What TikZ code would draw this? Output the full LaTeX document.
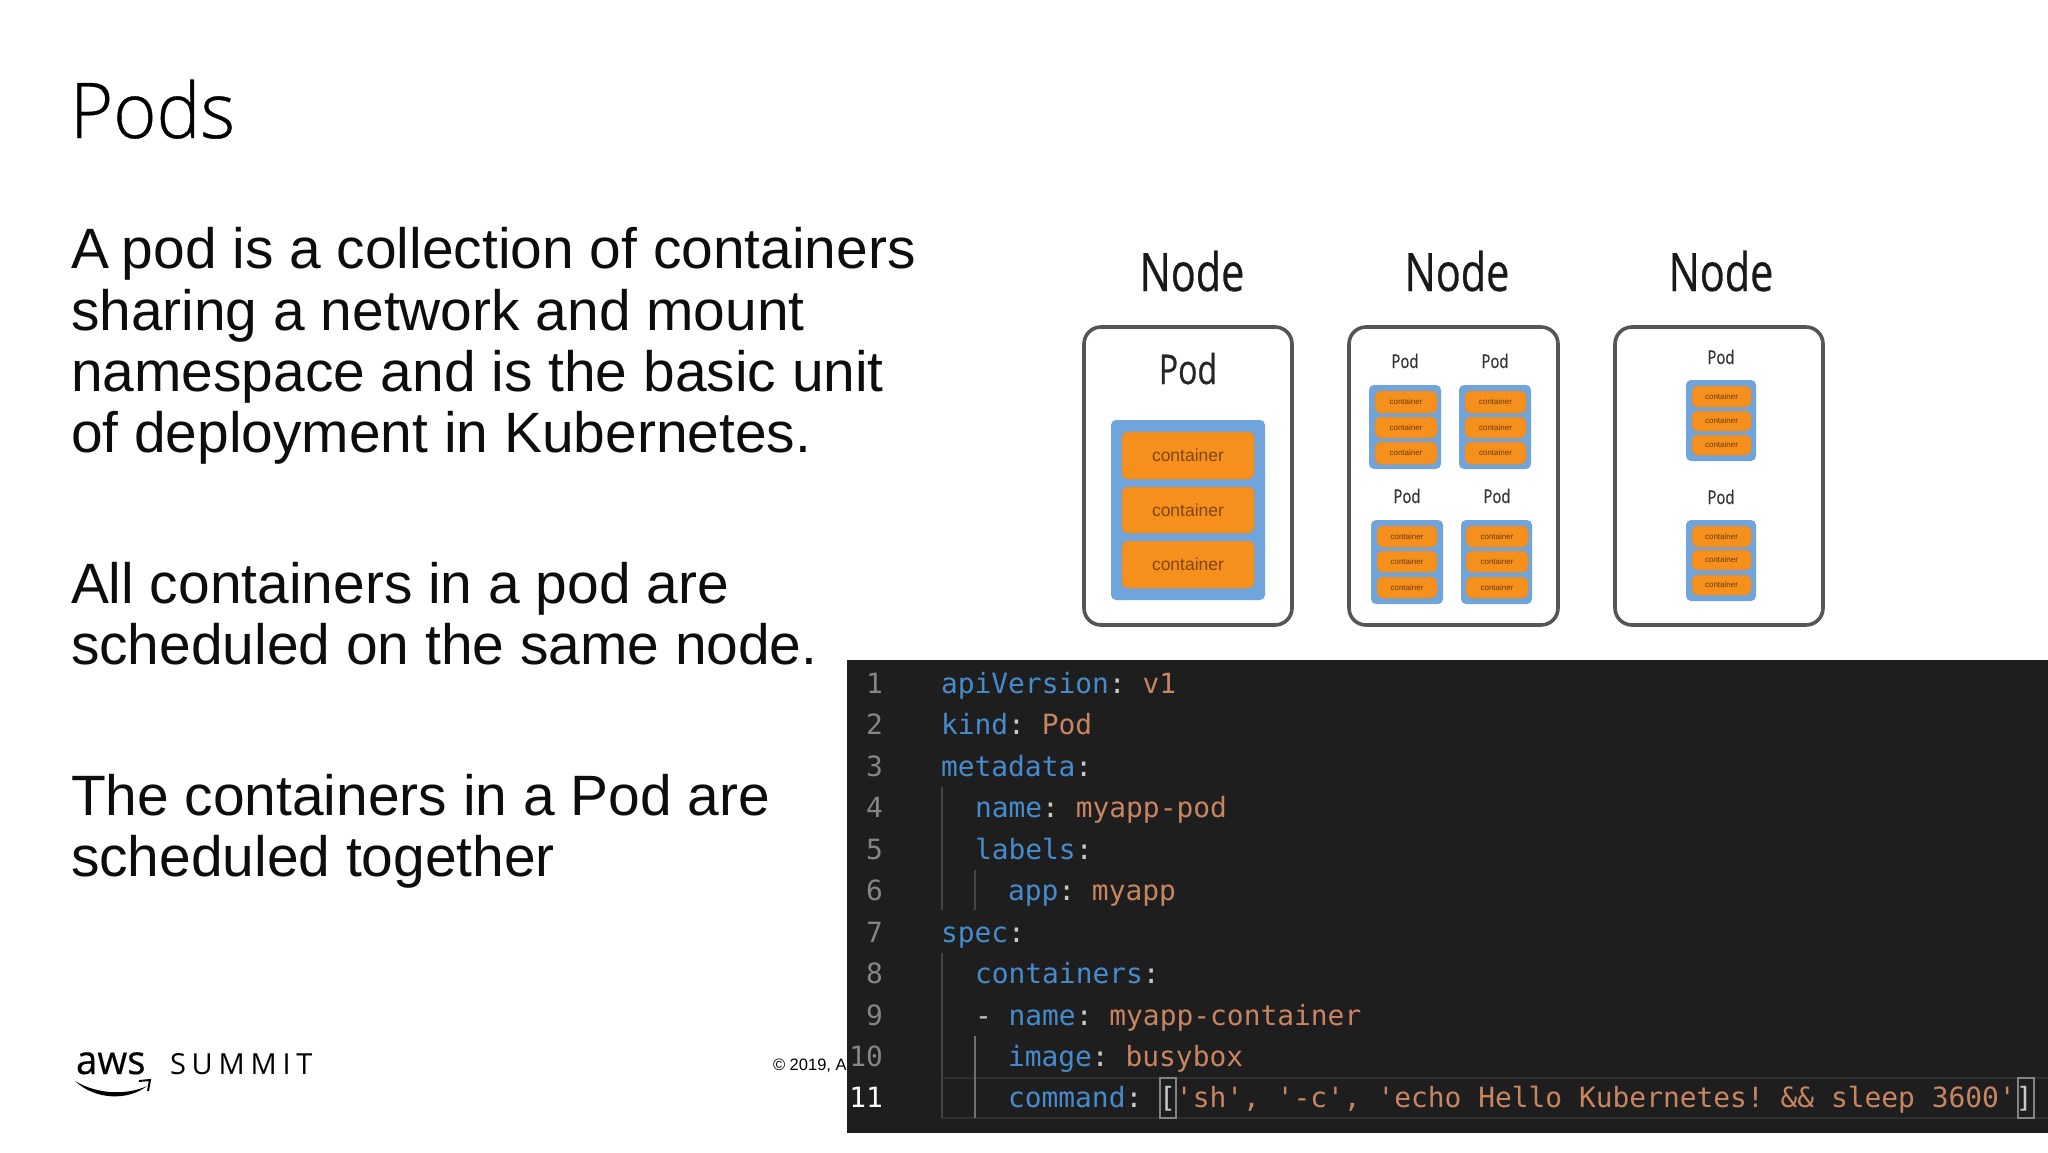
\documentclass[tikz,border=0pt]{standalone}
\usepackage{fontspec}
\setmainfont{Liberation Sans}
\setmonofont{DejaVu Sans Mono}
\newfontfamily\titlefont[FakeStretch=0.96,FakeBold=0.5]{Open Sans Light}
\newfontfamily\narrowfont[FakeStretch=0.78,FakeBold=0.5]{Open Sans}
\newfontfamily\logofont[FakeStretch=0.96,FakeBold=0.4]{Open Sans}
\newfontfamily\summitfont[LetterSpace=20]{Open Sans}
\definecolor{podblue}{HTML}{6FA5DC}
\definecolor{contorange}{HTML}{F5901C}
\definecolor{contlabel}{HTML}{834510}
\definecolor{contlabelsm}{HTML}{6E3A0C}
\definecolor{contedge}{HTML}{C9925A}
\definecolor{nodeline}{HTML}{555555}
\definecolor{panel}{HTML}{1E1E1F}
\definecolor{keyblue}{HTML}{468BCB}
\definecolor{valbrown}{HTML}{C78560}
\definecolor{lineno}{HTML}{858585}
\definecolor{punct}{HTML}{C8C8C8}
\definecolor{guide}{HTML}{444444}
\definecolor{guideactive}{HTML}{707070}
\tikzset{
  every node/.style={inner sep=0pt,outer sep=0pt},
  nodebox/.style={draw=nodeline,line width=3.6pt,rounded corners=17pt,fill=white},
  podbox/.style={fill=podblue,rounded corners=5pt},
  contbox/.style={fill=contorange,draw=contedge,line width=1pt,rounded corners=6pt},
  nodetitle/.style={anchor=base,font=\narrowfont\fontsize{53}{53}\selectfont,text=black!90},
  podbig/.style={anchor=base,font=\narrowfont\fontsize{41}{41}\selectfont,text=black!85},
  podsmall/.style={anchor=base,font=\narrowfont\fontsize{19}{19}\selectfont,text=black!80},
  bodytext/.style={anchor=base west,font=\fontsize{56.9}{60}\selectfont,text=black!95},
  code/.style={anchor=base west,font=\ttfamily\fontsize{27.9}{30}\selectfont},
  num/.style={anchor=base east,font=\ttfamily\fontsize{27.9}{30}\selectfont,text=lineno},
  guideline/.style={draw=guide,line width=1.3pt},
  activeguide/.style={draw=guideactive,line width=1.5pt},
  bracketbox/.style={draw=white!45!panel,line width=1.5pt}
}
\newcommand{\rbox}[7]{\node[#1,minimum width={(#4-#2)*1pt},minimum height={(#5-#3)*1pt}] (#6) at ({(#2+#4)/2},{(#3+#5)/2}) {#7};}
\newcommand{\clabelbig}{\textcolor{contlabel}{\fontsize{17.5}{18}\selectfont container}}
\newcommand{\clabelsmall}{\textcolor{contlabelsm}{\fontsize{8}{8}\selectfont container}}
\newcommand{\K}[1]{\textcolor{keyblue}{#1}}
\newcommand{\Vl}[1]{\textcolor{valbrown}{#1}}
\newcommand{\Pu}[1]{\textcolor{punct}{#1}}
\begin{document}
\begin{tikzpicture}[x=1pt,y=-1pt]
\useasboundingbox (0,0) rectangle (2048,1152);
\fill[white] (0,0) rectangle (2048,1152);
% title and body
\node[anchor=base west,font=\titlefont\fontsize{77}{77}\selectfont,text=black] (title) at (70,138) {Pods};
\node[bodytext] (b1) at (71,268) {A\kern-3pt\ pod is a collection of containers};
\node[bodytext] (b2) at (71,330) {sharing a network and mount};
\node[bodytext] (b3) at (71,391) {namespace and is the basic unit};
\node[bodytext] (b4) at (71,452) {of deployment in Kubernetes.};
\node[bodytext] (b5) at (71,603) {All containers in a pod are};
\node[bodytext] (b6) at (71,664) {scheduled on the same node.};
\node[bodytext] (b7) at (71,815) {The containers in a Pod are};
\node[bodytext] (b8) at (71,876) {scheduled together};
% footer
\node[anchor=base west,font=\logofont\fontsize{40}{40}\selectfont,text=black] (aws) at (76,1074) {aws};
\node[anchor=base west,font=\summitfont\fontsize{29}{29}\selectfont,text=black] (summit) at (170,1074) {SUMMIT};
\fill[black] (75,1081) .. controls (95,1100) and (128,1101) .. (147,1086) .. controls (128,1095) and (98,1095) .. cycle;
\draw[black,line width=2pt] (139,1081) -- (150,1080) -- (148,1091);
\node[anchor=base west,font=\fontsize{16.5}{17}\selectfont,text=black] (copy) at (773,1070) {© 2019, A};
% node boxes
\node[nodetitle] (n1t) at (1192,291) {Node};
\node[nodetitle] (n2t) at (1457,291) {Node};
\node[nodetitle] (n3t) at (1721,291) {Node};
\rbox{nodebox}{1084}{327}{1292}{625}{n1}{}
\rbox{nodebox}{1349}{327}{1558}{625}{n2}{}
\rbox{nodebox}{1615}{327}{1823}{625}{n3}{}
% node 1
\node[podbig] (p1) at (1188,384) {Pod};
\rbox{podbox}{1111}{420}{1265}{600}{pa}{}
\rbox{contbox}{1122}{432}{1254}{479}{pa1}{\clabelbig}
\rbox{contbox}{1122}{487}{1254}{533}{pa2}{\clabelbig}
\rbox{contbox}{1122}{541}{1254}{588}{pa3}{\clabelbig}
% node 2
\node[podsmall] (p2) at (1405,368) {Pod};
\node[podsmall] (p3) at (1495,368) {Pod};
\node[podsmall] (p4) at (1407,503) {Pod};
\node[podsmall] (p5) at (1497,503) {Pod};
\rbox{podbox}{1369}{385}{1441}{469}{pb}{}
\rbox{contbox}{1375}{391}{1437}{413}{pb1}{\clabelsmall}
\rbox{contbox}{1375}{417}{1437}{438}{pb2}{\clabelsmall}
\rbox{contbox}{1375}{442}{1437}{464}{pb3}{\clabelsmall}
\rbox{podbox}{1459}{385}{1531}{469}{pc}{}
\rbox{contbox}{1465}{391}{1526}{413}{pc1}{\clabelsmall}
\rbox{contbox}{1465}{417}{1526}{438}{pc2}{\clabelsmall}
\rbox{contbox}{1465}{442}{1526}{464}{pc3}{\clabelsmall}
\rbox{podbox}{1371}{520}{1443}{604}{pd}{}
\rbox{contbox}{1377}{526}{1437}{547}{pd1}{\clabelsmall}
\rbox{contbox}{1377}{551}{1437}{572}{pd2}{\clabelsmall}
\rbox{contbox}{1377}{577}{1437}{598}{pd3}{\clabelsmall}
\rbox{podbox}{1461}{520}{1532}{604}{pe}{}
\rbox{contbox}{1466}{526}{1528}{547}{pe1}{\clabelsmall}
\rbox{contbox}{1466}{551}{1528}{572}{pe2}{\clabelsmall}
\rbox{contbox}{1466}{577}{1528}{598}{pe3}{\clabelsmall}
% node 3
\node[podsmall] (p6) at (1721,364) {Pod};
\node[podsmall] (p7) at (1721,504) {Pod};
\rbox{podbox}{1686}{380}{1756}{461}{pf}{}
\rbox{contbox}{1692}{386}{1751}{407}{pf1}{\clabelsmall}
\rbox{contbox}{1692}{411}{1751}{431}{pf2}{\clabelsmall}
\rbox{contbox}{1692}{435}{1751}{455}{pf3}{\clabelsmall}
\rbox{podbox}{1686}{520}{1756}{601}{pg}{}
\rbox{contbox}{1692}{526}{1751}{547}{pg1}{\clabelsmall}
\rbox{contbox}{1692}{550}{1751}{570}{pg2}{\clabelsmall}
\rbox{contbox}{1692}{575}{1751}{595}{pg3}{\clabelsmall}
% code panel
\fill[panel] (847,660) rectangle (2048,1133);
\draw[draw=white!7!panel,line width=1.5pt] (942,1078) rectangle (2060,1118);
\draw[guideline] (942,787) -- (942,910);
\draw[guideline] (975,870) -- (975,910);
\draw[guideline] (942,953) -- (942,1118);
\draw[activeguide] (975,1036) -- (975,1118);
\draw[bracketbox] (1160,1078) rectangle (1176,1118);
\draw[bracketbox] (2018,1078) rectangle (2034,1118);
\node[num] (l1) at (883,693) {1};
\node[num] (l2) at (883,734) {2};
\node[num] (l3) at (883,776) {3};
\node[num] (l4) at (883,817) {4};
\node[num] (l5) at (883,859) {5};
\node[num] (l6) at (883,900) {6};
\node[num] (l7) at (883,942) {7};
\node[num] (l8) at (883,983) {8};
\node[num] (l9) at (883,1025) {9};
\node[num] (l10) at (883,1066) {10};
\node[num,text=white!80] (l11) at (883,1107) {11};
\node[code] (c1) at (941,693) {\K{apiVersion}\Pu{:} \Vl{v1}};
\node[code] (c2) at (941,734) {\K{kind}\Pu{:} \Vl{Pod}};
\node[code] (c3) at (941,776) {\K{metadata}\Pu{:}};
\node[code] (c4) at (975,817) {\K{name}\Pu{:} \Vl{myapp-pod}};
\node[code] (c5) at (975,859) {\K{labels}\Pu{:}};
\node[code] (c6) at (1008,900) {\K{app}\Pu{:} \Vl{myapp}};
\node[code] (c7) at (941,942) {\K{spec}\Pu{:}};
\node[code] (c8) at (975,983) {\K{containers}\Pu{:}};
\node[code] (c9) at (975,1025) {\Pu{-} \K{name}\Pu{:} \Vl{myapp-container}};
\node[code] (c10) at (1008,1066) {\K{image}\Pu{:} \Vl{busybox}};
\node[code] (c11) at (1008,1107) {\K{command}\Pu{:} \Pu{[}\Vl{'sh', '-c', 'echo Hello Kubernetes! \&\& sleep 3600'}\Pu{]}};
\end{tikzpicture}
\end{document}
